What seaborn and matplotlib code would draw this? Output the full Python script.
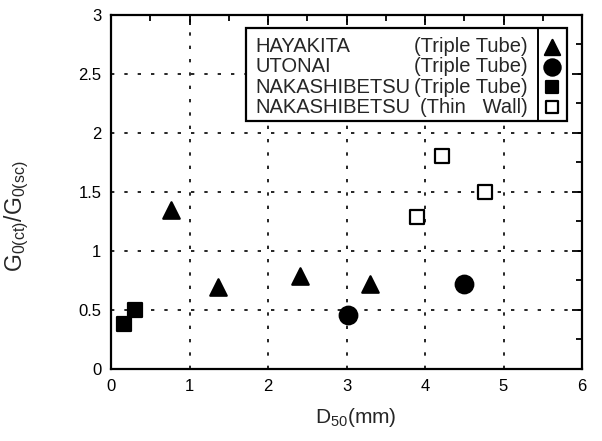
import matplotlib
matplotlib.use("Agg")
import matplotlib.pyplot as plt
import seaborn as sns
import pandas as pd
from matplotlib.patches import Rectangle
from matplotlib.ticker import MultipleLocator

sns.set_style("white")
plt.rcParams['font.family'] = ['Liberation Sans', 'DejaVu Sans']
plt.rcParams['mathtext.fontset'] = 'custom'
plt.rcParams['mathtext.rm'] = 'Liberation Sans'

# data: D50 (mm) vs G0(ct)/G0(sc)
hayakita_d50 = [0.77, 1.36, 2.41, 3.30]
hayakita_ratio = [1.35, 0.69, 0.79, 0.72]
utonai_d50 = [3.02, 4.50]
utonai_ratio = [0.46, 0.72]
naka_tt_d50 = [0.17, 0.31]
naka_tt_ratio = [0.38, 0.50]
naka_tw_d50 = [3.90, 4.22, 4.77]
naka_tw_ratio = [1.29, 1.80, 1.50]

x_ticks = [0, 1, 2, 3, 4, 5, 6]
y_ticks = [0, 0.5, 1, 1.5, 2, 2.5, 3]
y_tick_labels = ["0", "0.5", "1", "1.5", "2", "2.5", "3"]

site_names = ["HAYAKITA", "UTONAI", "NAKASHIBETSU", "NAKASHIBETSU"]
site_methods = ["(Triple Tube)", "(Triple Tube)", "(Triple Tube)", "(Thin   Wall)"]

series = [
    (hayakita_d50, hayakita_ratio, "^", "black", 140),
    (utonai_d50, utonai_ratio, "o", "black", 160),
    (naka_tt_d50, naka_tt_ratio, "s", "black", 100),
    (naka_tw_d50, naka_tw_ratio, "s", "white", 90),
]

fig = plt.figure(figsize=(6.02, 4.41), dpi=100)
ax = fig.add_axes([0.1844, 0.1633, 0.7824, 0.8034])

for xs, ys, mk, fc, sz in series:
    df = pd.DataFrame({"d50": xs, "ratio": ys})
    sns.scatterplot(data=df, x="d50", y="ratio", marker=mk, s=sz, color=fc,
                    edgecolor="black", linewidth=1.6, ax=ax, zorder=5)

ax.set_xlim(0, 6)
ax.set_ylim(0, 3)
ax.set_xticks(x_ticks)
ax.set_xticklabels([str(t) for t in x_ticks])
ax.set_yticks(y_ticks)
ax.set_yticklabels(y_tick_labels)
ax.xaxis.set_minor_locator(MultipleLocator(0.5))
ax.yaxis.set_minor_locator(MultipleLocator(0.25))
ax.tick_params(which='both', direction='in', top=True, right=True,
               color='black', width=1.3, labelsize=12, labelcolor='black')
ax.tick_params(which='major', length=7, pad=7)
ax.tick_params(which='minor', length=4)
ax.grid(True, which='major', color='black', linestyle=(0, (2, 6)), linewidth=1.2)
for sp in ax.spines.values():
    sp.set_visible(True)
    sp.set_color('black')
    sp.set_linewidth(1.6)

ax.set_xlabel(r"D$_{\mathregular{50}}$(mm)", fontsize=15)
ax.set_ylabel(r"G$_{\mathregular{0(ct)}}$/G$_{\mathregular{0(sc)}}$", fontsize=16.5)
ax.xaxis.set_label_coords(0.52, -0.104)
ax.yaxis.set_label_coords(-0.17, 0.43)

# legend box drawn by hand (text column + marker column)
ax.add_patch(Rectangle((0.287, 0.700), 0.681, 0.262, transform=ax.transAxes,
                       facecolor='white', edgecolor='black', linewidth=1.6, zorder=6))
ax.plot([0.907, 0.907], [0.700, 0.962], transform=ax.transAxes,
        color='black', linewidth=1.4, zorder=7)
row_y = [0.909, 0.853, 0.795, 0.739]
for i, (name, method) in enumerate(zip(site_names, site_methods)):
    ax.text(0.307, row_y[i], name, transform=ax.transAxes, fontsize=14.5,
            va='center', ha='left', zorder=8)
    ax.text(0.884, row_y[i], method, transform=ax.transAxes, fontsize=14.5,
            va='center', ha='right', zorder=8)
    mk, fc, sz = series[i][2], series[i][3], series[i][4]
    ax.scatter([0.937], [row_y[i]], marker=mk, s=sz * 0.85, color=fc,
               edgecolor='black', linewidth=1.6, transform=ax.transAxes, zorder=8)

fig.savefig("out.png", dpi=100)
